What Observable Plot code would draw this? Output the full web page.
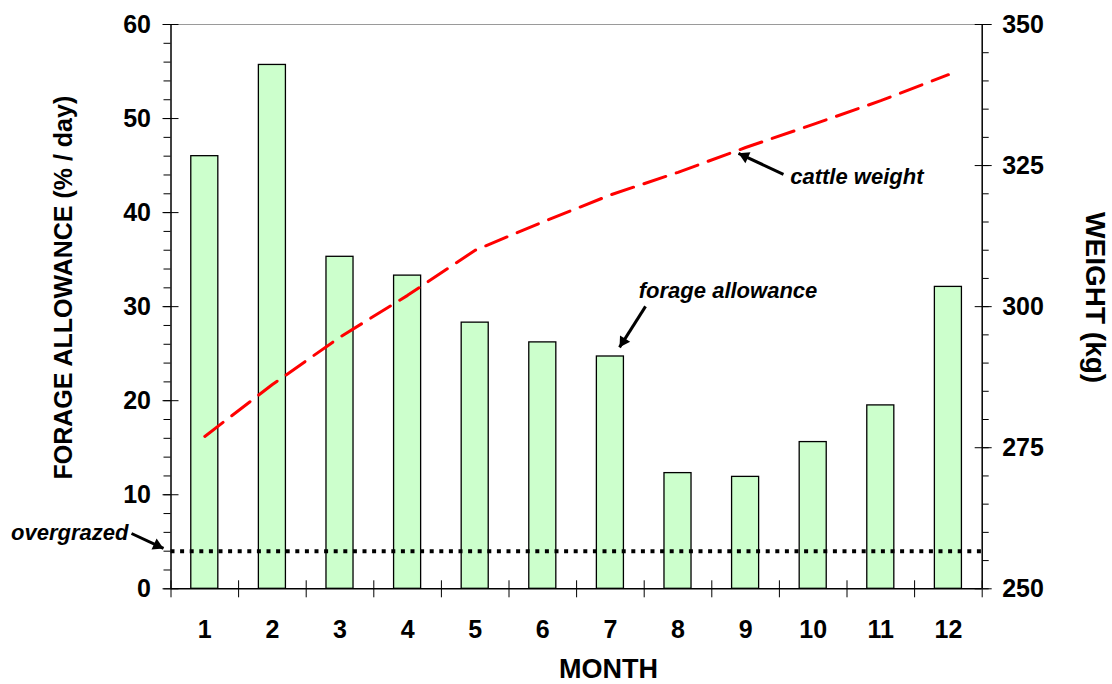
<!DOCTYPE html>
<html>
<head>
<meta charset="utf-8">
<script src="https://cdn.jsdelivr.net/npm/d3@7"></script>
<script src="https://cdn.jsdelivr.net/npm/@observablehq/plot@0.6"></script>
<style>
  html, body { margin: 0; padding: 0; background: #fff; }
  #chart svg { display: block; }
</style>
</head>
<body>
<div id="chart"></div>
<script>
// ---- data ----
const months = [1, 2, 3, 4, 5, 6, 7, 8, 9, 10, 11, 12];
const forageAllowance = [46.0, 55.7, 35.3, 33.3, 28.3, 26.2, 24.7, 12.3, 11.9, 15.6, 19.5, 32.1];
const cattleWeight = [277.0, 286.2, 294.6, 302.0, 310.0, 315.0, 319.8, 323.8, 328.2, 332.3, 336.5, 341.1];
const overgrazedLevel = [4];
const leftTicks = [0, 10, 20, 30, 40, 50, 60];
const leftMinorTicks = [0, 2, 4, 6, 8, 10, 12, 14, 16, 18, 20, 22, 24, 26, 28, 30, 32, 34, 36, 38, 40, 42, 44, 46, 48, 50, 52, 54, 56, 58, 60];
const rightTicks = [250, 275, 300, 325, 350];
const rightMinorTicks = [250, 255, 260, 265, 270, 275, 280, 285, 290, 295, 300, 305, 310, 315, 320, 325, 330, 335, 340, 345, 350];
const monthBoundaries = [0.5, 1.5, 2.5, 3.5, 4.5, 5.5, 6.5, 7.5, 8.5, 9.5, 10.5, 11.5, 12.5];
const leftDomain = [0, 60];
const weightDomain = [250, 350];
const monthDomain = [0.5, 12.5];
const titleLeft = "FORAGE ALLOWANCE (% / day)";
const titleRight = "WEIGHT (kg)";
const titleX = "MONTH";
// annotation anchors in data units (month, forage-allowance units)
const labelsStart = [
  {text: "cattle weight", month: 9.66, value: 43.8},
  {text: "forage allowance", month: 7.42, value: 31.7}
];
const labelsEnd = [
  {text: "overgrazed", month: -0.13, value: 5.9}
];
const arrows = [
  {m1: 9.56, v1: 44.07, m2: 8.895, v2: 46.3},
  {m1: 7.52, v1: 30.03, m2: 7.135, v2: 25.67},
  {m1: -0.084, v1: 5.88, m2: 0.389, v2: 4.29}
];

// ---- layout ----
const W = 1112, H = 684;
const mL = 170.5, mR = 130.3, mT = 24, mB = 95.7;

// ---- derived ----
const toLeft = w => (w - weightDomain[0]) / (weightDomain[1] - weightDomain[0]) * (leftDomain[1] - leftDomain[0]) + leftDomain[0];
const fromLeft = v => weightDomain[0] + (v - leftDomain[0]) / (leftDomain[1] - leftDomain[0]) * (weightDomain[1] - weightDomain[0]);
const rows = months.map((m, i) => ({month: m, fa: forageAllowance[i], w: cattleWeight[i]}));

// mirror of the plot's own linear scales, used only to orient arrow heads
const xS = d3.scaleLinear(monthDomain, [mL, W - mR]);
const yS = d3.scaleLinear(leftDomain, [H - mB, mT]);
const headSide = 12;
const headR = Math.sqrt((Math.sqrt(3) / 4 * headSide * headSide) / Math.PI);
const headBack = headSide / Math.sqrt(3);
const heads = arrows.map(a => {
  const px1 = xS(a.m1), py1 = yS(a.v1), px2 = xS(a.m2), py2 = yS(a.v2);
  const len = Math.hypot(px2 - px1, py2 - py1);
  const ux = (px2 - px1) / len, uy = (py2 - py1) / len;
  return {
    m: xS.invert(px2 - ux * headBack),
    v: yS.invert(py2 - uy * headBack),
    angle: Math.atan2(ux, -uy) * 180 / Math.PI
  };
});

const FONT = "'Liberation Sans', Arial, Helvetica, sans-serif";
const barHalf = 0.2;
const blank = () => "";

const chart = Plot.plot({
  width: W,
  height: H,
  marginLeft: mL,
  marginRight: mR,
  marginTop: mT,
  marginBottom: mB,
  x: {domain: monthDomain, label: null},
  y: {domain: leftDomain, label: null},
  style: {fontFamily: FONT, background: "#fff", color: "#000", overflow: "visible"},
  marks: [
    // bars
    Plot.rectY(rows, {x1: d => d.month - barHalf, x2: d => d.month + barHalf, y1: 0, y2: "fa",
      fill: "#ccffcc", stroke: "#000", strokeWidth: 1.3}),
    // overgrazed threshold
    Plot.ruleY(overgrazedLevel, {stroke: "#000", strokeWidth: 4, strokeDasharray: "4,5.6"}),
    // cattle weight line (right axis)
    Plot.line(rows, {x: "month", y: d => toLeft(d.w), stroke: "#ff0000", strokeWidth: 3, strokeDasharray: "23,11"}),
    // frame lines
    Plot.ruleY([leftDomain[1]], {stroke: "#9a9a9a", strokeWidth: 1.2}),
    Plot.ruleY([leftDomain[0]], {stroke: "#000", strokeWidth: 1.4}),
    Plot.ruleX([monthDomain[0]], {stroke: "#000", strokeWidth: 1.5}),
    Plot.ruleX([monthDomain[1]], {stroke: "#000", strokeWidth: 1.5}),
    // left axis
    Plot.axisY(leftMinorTicks, {anchor: "left", tickSize: 7, tickFormat: blank, label: null}),
    Plot.axisY(leftTicks, {anchor: "left", tickSize: 16, dx: 8, tickFormat: blank, label: null}),
    Plot.axisY(leftTicks, {anchor: "left", tickSize: 0, tickPadding: 20, fontSize: 25, fontWeight: "bold", label: null}),
    // right axis
    Plot.axisY(rightMinorTicks.map(toLeft), {anchor: "right", tickSize: 6, tickFormat: blank, label: null}),
    Plot.axisY(rightTicks.map(toLeft), {anchor: "right", tickSize: 17, dx: -8, tickFormat: blank, label: null}),
    Plot.axisY(rightTicks.map(toLeft), {anchor: "right", tickSize: 0, tickPadding: 20, fontSize: 25, fontWeight: "bold",
      tickFormat: v => String(Math.round(fromLeft(v))), label: null}),
    // x axis
    Plot.axisX(monthBoundaries, {anchor: "bottom", tickSize: 17, dy: -8, tickFormat: blank, label: null}),
    Plot.axisX(months, {anchor: "bottom", tickSize: 0, tickPadding: 31, fontSize: 25, fontWeight: "bold", label: null}),
    // axis titles
    Plot.text([titleLeft], {text: d => d, frameAnchor: "left", textAnchor: "middle", lineAnchor: "middle",
      rotate: -90, dx: -107.5, dy: -19, fontSize: 25, fontWeight: "bold"}),
    Plot.text([titleRight], {text: d => d, frameAnchor: "right", textAnchor: "middle", lineAnchor: "middle",
      rotate: 90, dx: 112.3, dy: -9, fontSize: 28, fontWeight: "bold"}),
    Plot.text([titleX], {text: d => d, frameAnchor: "bottom", textAnchor: "middle", lineAnchor: "middle",
      dx: 32, dy: 80.7, fontSize: 27, fontWeight: "bold"}),
    // annotations: shafts + filled heads
    Plot.link(arrows, {x1: "m1", y1: "v1", x2: "m2", y2: "v2", stroke: "#000", strokeWidth: 3}),
    Plot.dot(heads, {x: "m", y: "v", symbol: "triangle", r: headR, rotate: "angle", fill: "#000", stroke: "none"}),
    Plot.text(labelsStart, {x: "month", y: "value", text: "text", textAnchor: "start",
      fontSize: 22, fontWeight: "bold", fontStyle: "italic"}),
    Plot.text(labelsEnd, {x: "month", y: "value", text: "text", textAnchor: "end",
      fontSize: 22, fontWeight: "bold", fontStyle: "italic"})
  ]
});

document.getElementById("chart").appendChild(chart);
</script>
</body>
</html>
